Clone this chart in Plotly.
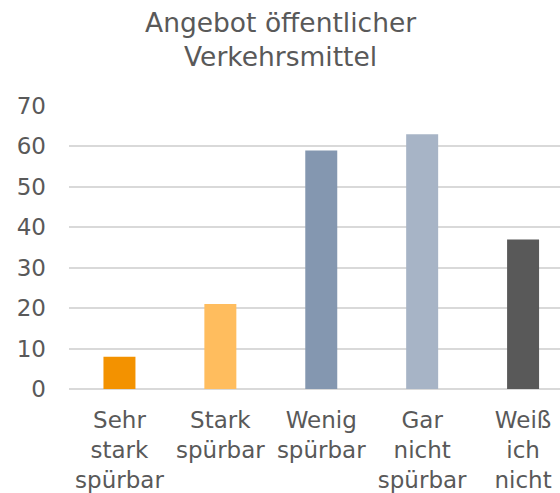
import plotly.graph_objects as go

# Survey answers for "Angebot öffentlicher Verkehrsmittel"
categories = ["Sehr stark spürbar", "Stark spürbar", "Wenig spürbar", "Gar nicht spürbar", "Weiß ich nicht"]
tick_labels = ["Sehr<br>stark<br>spürbar", "Stark<br>spürbar", "Wenig<br>spürbar", "Gar<br>nicht<br>spürbar", "Weiß<br>ich<br>nicht"]
values = [8, 21, 59, 63, 37]
bar_colors = ["#F39200", "#FFBD5E", "#8497B0", "#A7B4C6", "#595959"]
y_ticks = [0, 10, 20, 30, 40, 50, 60, 70]

FONT = "DejaVu Sans"
TEXT = "#595959"

fig = go.Figure(
    go.Bar(
        x=list(range(len(categories))),
        y=values,
        marker=dict(color=bar_colors, line=dict(width=0)),
        width=0.317,
        hovertext=categories,
    )
)

fig.update_layout(
    width=560,
    height=493,
    paper_bgcolor="white",
    plot_bgcolor="white",
    showlegend=False,
    margin=dict(l=68.5, r=0, t=106, b=103.5, pad=0, autoexpand=False),
    font=dict(family=FONT, color=TEXT),
    annotations=[
        dict(
            text="Angebot öffentlicher<br>Verkehrsmittel",
            xref="paper",
            yref="paper",
            x=(280 - 68.5) / 491.5,
            y=1 + (106 - 5) / 283.5,
            xanchor="center",
            yanchor="top",
            showarrow=False,
            align="center",
            font=dict(family=FONT, size=26.5, color=TEXT),
        )
    ],
)

fig.update_xaxes(
    range=[-0.5, 4.366],
    tickvals=list(range(len(categories))),
    ticktext=tick_labels,
    tickfont=dict(family=FONT, size=23, color=TEXT),
    tickangle=0,
    automargin=False,
    showgrid=False,
    zeroline=False,
    showline=False,
    ticks="",
    ticklabelstandoff=15,
)

fig.update_yaxes(
    range=[0, 70],
    tickvals=y_ticks,
    tickfont=dict(family=FONT, size=23, color=TEXT),
    automargin=False,
    showgrid=True,
    gridcolor="#D9D9D9",
    gridwidth=2,
    zeroline=True,
    zerolinecolor="#D9D9D9",
    zerolinewidth=2,
    showline=False,
    ticks="",
    ticklabelstandoff=22,
)

fig.write_html("out.html")
